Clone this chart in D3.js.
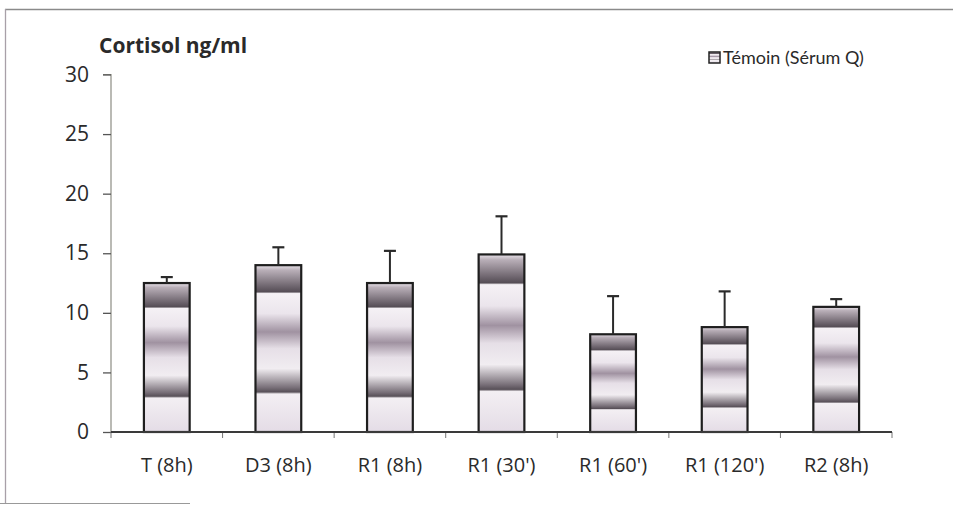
<!DOCTYPE html>
<html><head><meta charset="utf-8">
<script src="https://cdn.jsdelivr.net/npm/d3@7"></script>
<style>
html,body{margin:0;padding:0;background:#fff;}
svg text{font-family:"Open Sans",Lato,sans-serif;fill:#2a2a2a;}
</style></head>
<body>
<script>
const categories = ["T (8h)", "D3 (8h)", "R1 (8h)", "R1 (30')", "R1 (60')", "R1 (120')", "R2 (8h)"];
const means = [12.5, 14.0, 12.5, 14.9, 8.2, 8.8, 10.5];
const errors = [0.5, 1.5, 2.7, 3.2, 3.2, 3.0, 0.65];
const yTicks = [0, 5, 10, 15, 20, 25, 30];
const yTitle = "Cortisol ng/ml";
const seriesName = "Témoin (Sérum Q)";

const W = 953, H = 506;
const svg = d3.select("body").append("svg").attr("width", W).attr("height", H);

// gradient (banded fill)
const defs = svg.append("defs");
const grad = defs.append("linearGradient").attr("id", "band")
  .attr("x1", 0).attr("y1", 0).attr("x2", 0).attr("y2", 1);
const stops = [
  [0, "#e9e3ea"], [0.03, "#b9afb8"], [0.13, "#6c636c"], [0.16, "#554d55"],
  [0.17, "#f5f1f5"], [0.29, "#ebe5ec"], [0.40, "#a092a1"], [0.50, "#e6dfe7"],
  [0.62, "#f1edf1"], [0.735, "#776e77"], [0.76, "#585058"], [0.772, "#f3eff3"],
  [1, "#e4dce6"]
];
stops.forEach(s => grad.append("stop").attr("offset", s[0]).attr("stop-color", s[1]));

// outer frame
svg.append("line").attr("x1", 5).attr("x2", W).attr("y1", 9.5).attr("y2", 9.5).attr("stroke", "#8a8a8a").attr("stroke-width", 1.3);
svg.append("line").attr("x1", 5.5).attr("x2", 5.5).attr("y1", 9).attr("y2", 503).attr("stroke", "#a8a0a8").attr("stroke-width", 1.3);
svg.append("line").attr("x1", 0).attr("x2", 190).attr("y1", 503.5).attr("y2", 503.5).attr("stroke", "#999").attr("stroke-width", 1);

const x = d3.scaleBand().domain(categories).range([111, 892]).paddingInner(0.59).paddingOuter(0.295);
const y = d3.scaleLinear().domain([0, 30]).range([432, 74.5]);

// y axis
const yAxis = svg.append("g").attr("transform", "translate(111,0)")
  .call(d3.axisLeft(y).tickValues(yTicks).tickSize(8).tickPadding(14).tickFormat(d3.format("d")));
yAxis.select(".domain").attr("stroke", "#8d8d84").attr("stroke-width", 1.2).attr("d", "M-8,74.5H0V432");
yAxis.selectAll(".tick line").attr("stroke", "#555").attr("stroke-width", 1.3);
yAxis.selectAll(".tick text").style("font-size", "21px").attr("fill", "#2a2a2a");

// x axis
const bounds = d3.range(categories.length + 1).map(i => x.range()[0] + i * x.step());
const xg = svg.append("g");
xg.selectAll("line.bt").data(bounds).join("line").attr("class", "bt")
  .attr("x1", d => d).attr("x2", d => d).attr("y1", 432).attr("y2", 438)
  .attr("stroke", "#777").attr("stroke-width", 1);
xg.selectAll("text").data(categories).join("text")
  .attr("x", d => x(d) + x.bandwidth() / 2).attr("y", 472)
  .attr("text-anchor", "middle").style("font-size", "20px").text(d => d);

// bars
svg.selectAll("rect.bar").data(categories).join("rect").attr("class", "bar")
  .attr("x", d => x(d)).attr("width", x.bandwidth())
  .attr("y", (d, i) => y(means[i])).attr("height", (d, i) => y(0) - y(means[i]))
  .attr("fill", "url(#band)").attr("stroke", "#1e1e1e").attr("stroke-width", 2.2);

// error bars
const eb = svg.selectAll("g.err").data(categories).join("g").attr("class", "err");
eb.append("line").attr("x1", d => x(d) + x.bandwidth() / 2).attr("x2", d => x(d) + x.bandwidth() / 2)
  .attr("y1", (d, i) => y(means[i])).attr("y2", (d, i) => y(means[i] + errors[i]))
  .attr("stroke", "#2a2a2a").attr("stroke-width", 2);
eb.append("line").attr("x1", d => x(d) + x.bandwidth() / 2 - 6).attr("x2", d => x(d) + x.bandwidth() / 2 + 6)
  .attr("y1", (d, i) => y(means[i] + errors[i])).attr("y2", (d, i) => y(means[i] + errors[i]))
  .attr("stroke", "#2a2a2a").attr("stroke-width", 2.2);

// x axis line
svg.append("line").attr("x1", 111).attr("x2", 892).attr("y1", 432).attr("y2", 432)
  .attr("stroke", "#3a3a3a").attr("stroke-width", 2);

// title
svg.append("text").attr("x", 99).attr("y", 53).style("font-size", "21px").style("font-weight", "bold").text(yTitle);

// legend
svg.append("rect").attr("x", 709).attr("y", 52).attr("width", 11).attr("height", 11)
  .attr("fill", "url(#band)").attr("stroke", "#222").attr("stroke-width", 1.5);
svg.append("text").attr("x", 723).attr("y", 64).style("font-family", "Lato, sans-serif").style("font-size", "18px").text(seriesName);
</script>
</body></html>
